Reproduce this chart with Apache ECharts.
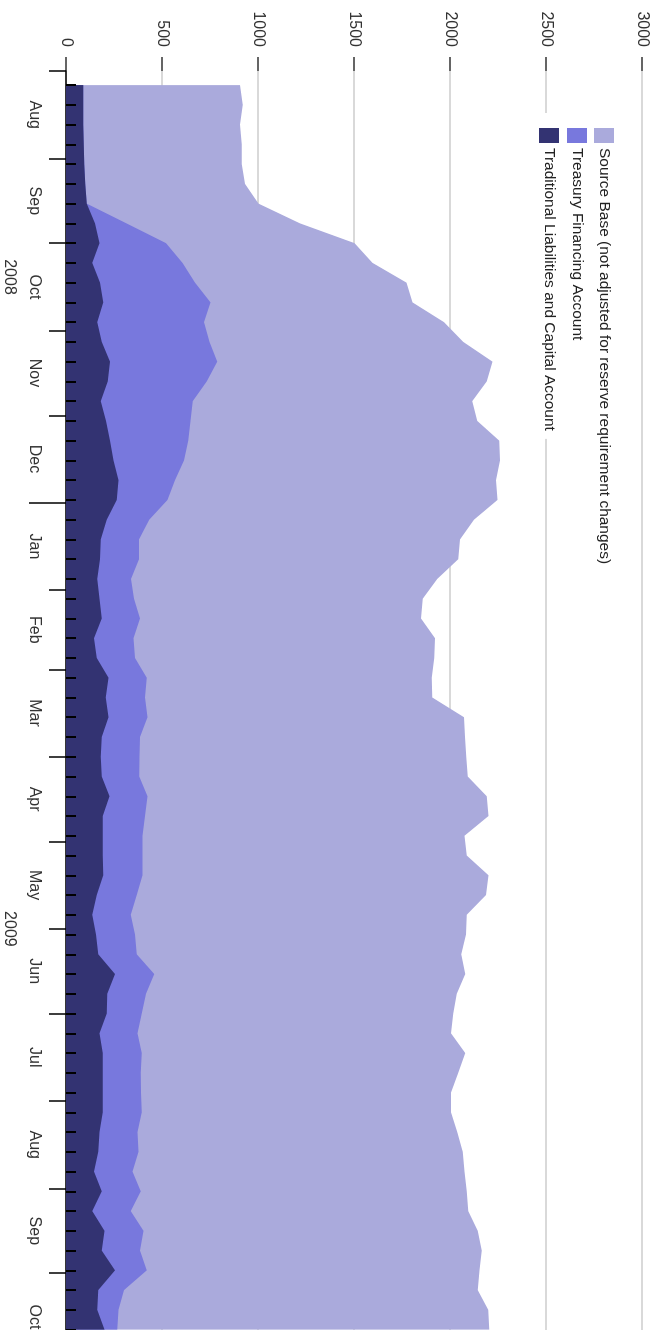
<!DOCTYPE html>
<html>
<head>
<meta charset="utf-8">
<title>Source Base</title>
<script src="https://cdn.jsdelivr.net/npm/echarts@6/dist/echarts.min.js"></script>
<style>
html, body { margin: 0; padding: 0; background: #fff; overflow: hidden; width: 656px; height: 1330px; }
/* chart is laid out landscape and turned a quarter clockwise */
#main { position: absolute; left: 0; top: 0; width: 1400px; height: 656px; transform-origin: 0 0; transform: translate(656px, 0) rotate(90deg); }
</style>
</head>
<body>
<div id="main"></div>
<script>
// weekly (Wednesday) figures, billions of dollars
var weeks = [
  '2008-08-06','2008-08-13','2008-08-20','2008-08-27','2008-09-03','2008-09-10','2008-09-17','2008-09-24',
  '2008-10-01','2008-10-08','2008-10-15','2008-10-22','2008-10-29','2008-11-05','2008-11-12','2008-11-19',
  '2008-11-26','2008-12-03','2008-12-10','2008-12-17','2008-12-24','2008-12-31','2009-01-07','2009-01-14',
  '2009-01-21','2009-01-28','2009-02-04','2009-02-11','2009-02-18','2009-02-25','2009-03-04','2009-03-11',
  '2009-03-18','2009-03-25','2009-04-01','2009-04-08','2009-04-15','2009-04-22','2009-04-29','2009-05-06',
  '2009-05-13','2009-05-20','2009-05-27','2009-06-03','2009-06-10','2009-06-17','2009-06-24','2009-07-01',
  '2009-07-08','2009-07-15','2009-07-22','2009-07-29','2009-08-05','2009-08-12','2009-08-19','2009-08-26',
  '2009-09-02','2009-09-09','2009-09-16','2009-09-23','2009-09-30','2009-10-07','2009-10-14','2009-10-21'
];
var sourceBase = [
  906, 920, 906, 915, 915, 932, 1002, 1219, 1502, 1597,
  1774, 1805, 1969, 2069, 2222, 2191, 2116, 2142, 2257, 2260,
  2240, 2247, 2125, 2052, 2043, 1934, 1858, 1849, 1922, 1918,
  1905, 1908, 2073, 2078, 2085, 2092, 2191, 2201, 2075, 2087,
  2201, 2188, 2087, 2083, 2059, 2080, 2035, 2017, 2005, 2080,
  2043, 2005, 2005, 2038, 2066, 2075, 2087, 2095, 2144, 2165,
  2153, 2144, 2199, 2205
];
var traditional = [
  90, 90, 90, 92, 95, 100, 108, 151, 174, 137,
  177, 194, 163, 186, 229, 217, 181, 208, 229, 247,
  273, 264, 212, 181, 177, 163, 174, 186, 146, 160,
  221, 207, 221, 186, 181, 186, 226, 191, 191, 192,
  194, 160, 137, 156, 168, 255, 215, 212, 174, 191,
  191, 191, 191, 174, 168, 146, 186, 137, 200, 186,
  255, 168, 163, 200
];
var treasury = [
  0, 0, 0, 0, 0, 0, 0, 164, 347, 470,
  495, 559, 556, 561, 559, 516, 479, 441, 408, 368,
  295, 264, 222, 199, 203, 176, 180, 199, 205, 199,
  199, 204, 203, 199, 202, 196, 198, 220, 208, 206,
  204, 208, 200, 203, 200, 205, 202, 182, 199, 203,
  198, 200, 203, 198, 209, 201, 203, 200, 203, 199,
  165, 134, 110, 67
];

var monthTicks = ['2008-08-01','2008-09-01','2008-10-01','2008-11-01','2008-12-01','2009-01-01','2009-02-01','2009-03-01',
  '2009-04-01','2009-05-01','2009-06-01','2009-07-01','2009-08-01','2009-09-01','2009-10-01','2009-11-01'];
var monthNames = ['Aug','Sep','Oct','Nov','Dec','Jan','Feb','Mar','Apr','May','Jun','Jul','Aug','Sep','Oct'];
var yearTicks = ['2009-01-01'];
var yearNames = ['2008', '2009'];
var yearLabelAt = ['2008-10-13', '2009-06-01'];

var names = {
  base: 'Source Base (not adjusted for reserve requirement changes)',
  tfa: 'Treasury Financing Account',
  trad: 'Traditional Liabilities and Capital Account'
};
var colors = { base: '#aaaadc', tfa: '#7878dd', trad: '#333372' };
var font = 'Liberation Sans, Arial, sans-serif';

function dayOf(s) {
  var p = s.split('-');
  return (Date.UTC(+p[0], +p[1] - 1, +p[2]) - Date.UTC(2008, 7, 1)) / 86400000;
}
function pairs(vals) {
  return weeks.map(function (w, i) { return [dayOf(w), vals[i]]; });
}

// treasury account sits on top of the traditional liabilities
var liabTop = traditional.map(function (v, i) { return v + treasury[i]; });

var xMax = dayOf('2009-11-01');
var monthStartDays = monthTicks.map(dayOf);
var monthMidDays = [];
var labelText = {};
for (var i = 0; i < monthNames.length; i++) {
  var mid = (monthStartDays[i] + monthStartDays[i + 1]) / 2;
  monthMidDays.push(mid);
  labelText[mid] = monthNames[i];
}
var yearDays = yearLabelAt.map(dayOf);
yearDays.forEach(function (d, i) { labelText[d] = yearNames[i]; });

var myChart = echarts.init(document.getElementById('main'));

function areaSeries(name, vals, color) {
  return {
    name: name,
    type: 'line',
    data: pairs(vals),
    symbol: 'none',
    lineStyle: { width: 0 },
    itemStyle: { color: color },
    areaStyle: { color: color, opacity: 1 },
    emphasis: { disabled: true },
    silent: true
  };
}

function legendBox(name, top) {
  return {
    data: [name],
    left: 113,
    top: top,
    padding: [3, 8, 3, 15],
    backgroundColor: '#fff',
    icon: 'rect',
    itemWidth: 15,
    itemHeight: 20,
    selectedMode: false,
    textStyle: { fontSize: 15.5, color: '#222', fontFamily: font }
  };
}

myChart.setOption({
  animation: false,
  backgroundColor: '#fff',
  grid: { left: 71, top: 14, width: xMax * 2.822, height: 576, outerBoundsMode: 'none' },
  legend: [
    legendBox(names.base, 39),
    legendBox(names.tfa, 66),
    legendBox(names.trad, 94)
  ],
  xAxis: [
    {
      type: 'value', min: 0, max: xMax, position: 'bottom',
      axisLine: { show: true, lineStyle: { color: '#000', width: 1.5 } },
      axisTick: { show: true, length: 17, customValues: monthStartDays, lineStyle: { color: '#000', width: 1.5 } },
      axisLabel: {
        show: true, customValues: monthMidDays, margin: 24,
        fontSize: 16, color: '#333', fontFamily: font,
        formatter: function (v) { return labelText[v] || ''; }
      },
      splitLine: { show: false }
    },
    {
      // weekly ticks drawn over the areas
      type: 'value', min: 0, max: xMax, position: 'bottom', z: 5,
      axisLine: { show: false },
      axisTick: { show: true, inside: true, length: 10, customValues: weeks.map(dayOf), lineStyle: { color: '#000', width: 2 } },
      axisLabel: { show: false },
      splitLine: { show: false }
    },
    {
      type: 'value', min: 0, max: xMax, position: 'bottom',
      axisLine: { show: false },
      axisTick: { show: true, length: 37, customValues: yearTicks.map(dayOf), lineStyle: { color: '#000', width: 1.5 } },
      axisLabel: {
        show: true, customValues: yearDays, margin: 49,
        fontSize: 16, color: '#333', fontFamily: font,
        formatter: function (v) { return labelText[v] || ''; }
      },
      splitLine: { show: false }
    }
  ],
  yAxis: {
    type: 'value', min: 0, max: 3000, interval: 500, position: 'left',
    axisLine: { show: false },
    axisTick: { show: true, length: 14, lineStyle: { color: '#333', width: 1.5 } },
    axisLabel: { margin: 24, fontSize: 16, color: '#333', fontFamily: font, formatter: function (v) { return String(v); } },
    splitLine: { show: true, lineStyle: { color: '#ccc', width: 1.5 } }
  },
  series: [
    areaSeries(names.base, sourceBase, colors.base),
    areaSeries(names.tfa, liabTop, colors.tfa),
    areaSeries(names.trad, traditional, colors.trad)
  ]
});
</script>
</body>
</html>
